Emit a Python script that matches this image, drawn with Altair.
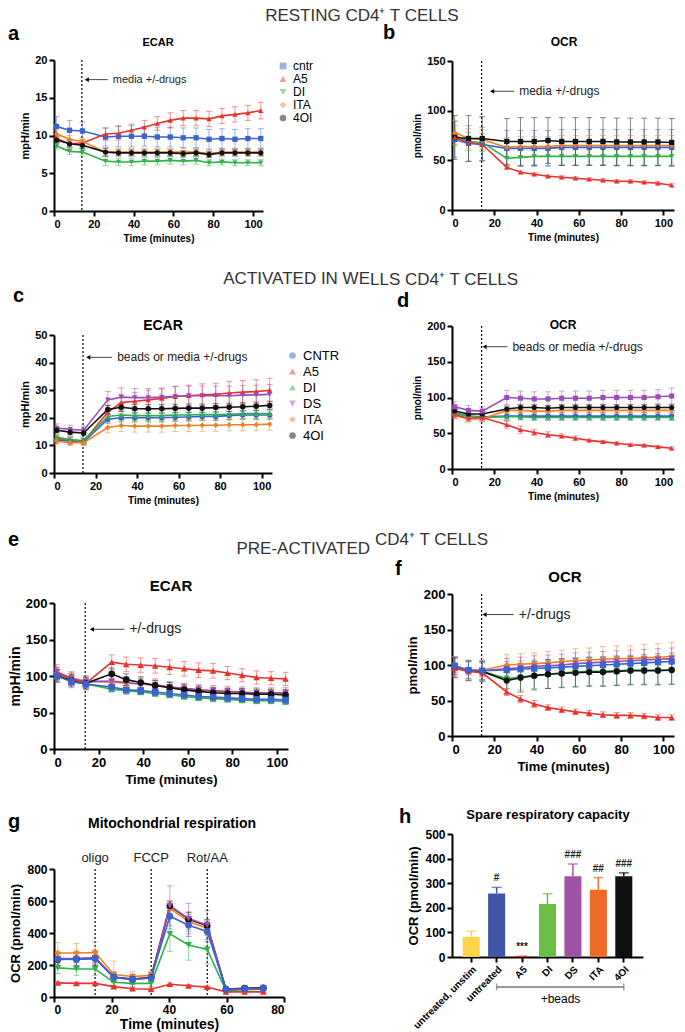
import altair as alt
import pandas as pd

FONT = "Liberation Sans"

# measurement times (minutes)
T16 = [1.3, 7.8, 14.3, 25.9, 32.4, 38.9, 45.4, 51.9, 58.4, 64.9, 71.4, 77.9, 84.4, 90.9, 97.4, 103.9]
T12 = [1.3, 7.8, 14.3, 20.8, 27.3, 33.8, 40.3, 46.8, 53.3, 59.8, 66.3, 72.8]

C_CNTR = "#3C63CB"
C_A5 = "#E8322C"
C_DI = "#2EB24A"
C_ITA = "#F2801F"
C_4OI = "#111111"
C_DS = "#9B4DB7"

# ---------------- a: resting ECAR ----------------
a_cntr = [11.2, 10.7, 10.6, 9.8, 9.9, 9.9, 9.9, 9.8, 9.8, 9.7, 9.7, 9.5, 9.6, 9.5, 9.6, 9.6]
a_cntr_err = [1.3, 1.3, 1.2, 1.2, 1.4, 1.4, 1.3, 1.3, 1.3, 1.3, 1.3, 1.3, 1.3, 1.3, 1.3, 1.3]
a_a5 = [9.6, 8.9, 9.0, 10.2, 10.3, 10.7, 11.1, 11.6, 12.0, 12.3, 12.3, 12.2, 12.6, 12.8, 13.0, 13.3]
a_a5_err = [0.5, 0.5, 0.5, 0.8, 0.9, 0.8, 0.9, 0.9, 1.0, 1.0, 1.0, 1.0, 1.0, 1.0, 1.0, 1.1]
a_di = [8.6, 7.9, 7.8, 6.6, 6.5, 6.5, 6.6, 6.6, 6.7, 6.6, 6.7, 6.4, 6.5, 6.4, 6.4, 6.4]
a_di_err = [0.4, 0.4, 0.4, 0.6, 0.5, 0.5, 0.5, 0.5, 0.5, 0.5, 0.5, 0.4, 0.4, 0.4, 0.4, 0.4]
a_ita = [10.2, 9.5, 9.2, 7.8, 7.8, 7.8, 7.8, 7.8, 7.8, 7.8, 7.8, 7.6, 7.8, 7.8, 7.8, 7.8]
a_ita_err = [0.5, 0.5, 0.5, 0.6, 0.5, 0.5, 0.5, 0.5, 0.5, 0.5, 0.5, 0.5, 0.5, 0.5, 0.5, 0.5]
a_4oi = [9.4, 8.9, 8.7, 7.8, 7.7, 7.7, 7.7, 7.7, 7.7, 7.6, 7.7, 7.5, 7.7, 7.7, 7.7, 7.7]
a_4oi_err = [0.4, 0.4, 0.4, 0.5, 0.4, 0.4, 0.4, 0.4, 0.4, 0.4, 0.4, 0.4, 0.4, 0.4, 0.4, 0.4]

# ---------------- b: resting OCR ----------------
b_cntr = [71, 67, 66, 62, 62, 62, 62, 63, 63, 63, 63, 63, 63, 63, 63, 63]
b_cntr_err = [18, 18, 17, 18, 18, 18, 18, 18, 18, 18, 18, 18, 18, 18, 18, 18]
b_a5 = [73, 68, 66, 43, 38, 36, 34, 33, 32, 31, 30, 29, 29, 28, 27, 25]
b_a5_err = [3, 2, 2, 2, 1.5, 1.5, 1.5, 1.5, 1.5, 1.5, 1.5, 1.5, 1.5, 1.5, 1.5, 1.5]
b_di = [75, 69, 68, 52, 53, 54, 54, 54, 54, 54, 54, 54, 54, 54, 54, 54]
b_di_err = [10, 9, 9, 8, 9, 9, 9, 9, 9, 9, 9, 9, 9, 9, 9, 9]
b_ita = [78, 72, 71, 63, 64, 64, 64, 65, 65, 65, 65, 65, 65, 65, 65, 65]
b_ita_err = [12, 10, 10, 10, 10, 10, 10, 10, 10, 10, 10, 10, 10, 10, 10, 10]
b_4oi = [73, 72, 72, 69, 69, 69, 70, 69, 69, 69, 69, 68.5, 68.5, 68.5, 68.5, 68]
b_4oi_err = [22, 23, 22, 23, 24, 24, 23, 24, 24, 24, 24, 24, 24, 24, 24, 24]

# ---------------- c: activated in wells ECAR ----------------
c_cntr = [12.0, 11.5, 11.3, 19.5, 20.0, 20.0, 20.0, 20.0, 20.2, 20.3, 20.5, 20.5, 20.8, 21.0, 21.0, 21.0]
c_cntr_err = [1.2, 1.2, 1.2, 1.5, 1.5, 1.5, 1.5, 1.5, 1.5, 1.5, 1.5, 1.5, 1.5, 1.5, 1.5, 1.5]
c_a5 = [12.5, 12.0, 11.5, 22.0, 25.5, 26.0, 26.5, 27.0, 27.7, 28.0, 28.3, 28.5, 29.0, 29.3, 29.5, 30.0]
c_a5_err = [1.0, 1.0, 1.0, 2.5, 3.0, 3.2, 3.5, 3.5, 3.8, 3.8, 4.0, 4.0, 4.2, 4.2, 4.3, 4.3]
c_di = [13.0, 12.0, 11.8, 20.5, 21.0, 20.8, 20.8, 20.8, 21.0, 21.0, 21.2, 21.2, 21.3, 21.5, 21.5, 21.5]
c_di_err = [1.0, 1.0, 1.0, 2.0, 2.0, 2.0, 2.0, 2.0, 2.0, 2.0, 2.0, 2.0, 2.0, 2.0, 2.0, 2.0]
c_ds = [16.3, 15.8, 15.5, 26.5, 27.5, 27.3, 27.3, 27.5, 27.8, 28.0, 28.0, 28.0, 28.0, 28.2, 28.3, 28.5]
c_ds_err = [1.5, 1.5, 1.5, 3.0, 3.3, 3.3, 3.3, 3.3, 3.5, 3.5, 3.5, 3.5, 3.5, 3.5, 3.5, 3.5]
c_ita = [11.5, 11.0, 11.0, 16.5, 17.2, 17.0, 17.0, 17.0, 17.2, 17.2, 17.3, 17.3, 17.5, 17.5, 17.5, 17.7]
c_ita_err = [1.0, 1.0, 1.0, 2.0, 2.2, 2.2, 2.2, 2.2, 2.2, 2.2, 2.2, 2.2, 2.2, 2.2, 2.2, 2.2]
c_4oi = [15.5, 14.8, 14.5, 23.0, 23.8, 23.3, 23.3, 23.3, 23.4, 23.5, 23.5, 23.7, 23.8, 24.0, 24.2, 24.5]
c_4oi_err = [1.0, 1.0, 1.0, 1.5, 1.5, 1.5, 1.5, 1.5, 1.5, 1.5, 1.5, 1.5, 1.5, 1.5, 1.5, 1.5]

# ---------------- d: activated in wells OCR ----------------
d_cntr = [78, 74, 73, 74, 74, 74, 74, 74, 74, 74, 74, 74, 74, 74, 74, 74]
d_cntr_err = [5, 4, 4, 6, 5, 5, 5, 5, 5, 5, 5, 5, 5, 5, 5, 5]
d_a5 = [76, 71, 72, 62, 55, 51, 48, 46, 43, 40, 38, 36, 34, 33, 31, 29]
d_a5_err = [5, 5, 5, 5, 5, 4, 4, 3, 3, 2, 2, 2, 2, 2, 2, 2]
d_di = [79, 74, 72, 73, 73, 72, 72, 72, 72, 72, 72, 72, 72, 72, 72, 72]
d_di_err = [4, 4, 4, 4, 4, 4, 4, 4, 4, 4, 4, 4, 4, 4, 4, 4]
d_ds = [87, 82, 81, 100, 99, 98, 98, 99, 99, 99, 100, 100, 100, 100, 101, 102]
d_ds_err = [7, 7, 6, 10, 10, 10, 10, 10, 10, 10, 10, 10, 10, 10, 10, 11]
d_ita = [75, 70, 70, 82, 82, 81, 81, 82, 82, 82, 82, 82, 82, 82, 82, 82]
d_ita_err = [4, 4, 4, 4, 4, 4, 4, 4, 4, 4, 4, 4, 4, 4, 4, 4]
d_4oi = [81, 77, 77, 84, 86, 86, 85, 86, 86, 86, 86, 86, 86, 86, 86, 86]
d_4oi_err = [4, 4, 4, 4, 4, 4, 4, 4, 4, 4, 4, 4, 4, 4, 4, 4]

# ---------------- e: pre-activated ECAR ----------------
e_cntr = [100, 92, 89, 85, 81, 80, 78, 76, 74, 72, 71, 70, 69, 68, 68, 67]
e_cntr_err = [9, 8, 8, 6, 6, 5, 5, 5, 5, 5, 5, 5, 5, 5, 5, 5]
e_a5 = [103, 96, 90, 119, 116, 115, 114, 112, 110, 108, 107, 104, 101, 98, 97, 96]
e_a5_err = [9, 8, 7, 10, 10, 10, 10, 10, 10, 10, 10, 9, 9, 9, 9, 9]
e_di = [101, 93, 89, 82, 80, 78, 76, 74, 72, 70, 69, 68, 67, 66, 66, 65]
e_di_err = [6, 5, 5, 4, 4, 4, 4, 4, 4, 4, 4, 4, 4, 4, 4, 4]
e_ds = [106, 97, 92, 93, 91, 89, 88, 85, 83, 81, 80, 79, 78, 77, 77, 77]
e_ds_err = [10, 9, 8, 8, 8, 8, 8, 7, 7, 7, 7, 7, 7, 7, 7, 7]
e_ita = [104, 97, 93, 92, 90, 89, 87, 85, 83, 81, 79, 78, 77, 76, 76, 76]
e_ita_err = [8, 7, 7, 7, 7, 7, 7, 7, 6, 6, 6, 6, 6, 6, 6, 6]
e_4oi = [100, 94, 90, 103, 95, 91, 87, 84, 81, 79, 77, 76, 76, 75, 75, 74]
e_4oi_err = [8, 8, 8, 8, 8, 8, 7, 7, 7, 7, 7, 7, 7, 7, 7, 7]

# ---------------- f: pre-activated OCR ----------------
f_cntr = [99, 93, 92, 93, 94, 95, 96, 97, 98, 99, 100, 101, 102, 103, 104, 105]
f_cntr_err = [12, 12, 12, 12, 12, 12, 12, 12, 12, 12, 12, 12, 12, 12, 12, 12]
f_a5 = [95, 91, 89, 62, 52, 45, 40, 37, 34, 32, 30, 29, 29, 28, 26, 26]
f_a5_err = [6, 5, 5, 5, 5, 5, 4, 4, 4, 4, 4, 4, 4, 4, 4, 4]
f_di = [98, 92, 91, 81, 83, 85, 87, 89, 90, 91, 91, 92, 93, 93, 93, 93]
f_di_err = [12, 12, 12, 15, 18, 18, 20, 20, 20, 20, 20, 20, 20, 20, 20, 20]
f_ds = [97, 92, 92, 95, 96, 98, 99, 100, 102, 103, 104, 105, 106, 107, 108, 109]
f_ds_err = [14, 14, 14, 14, 15, 15, 15, 15, 15, 15, 15, 15, 15, 15, 15, 15]
f_ita = [98, 93, 93, 100, 101, 102, 103, 105, 106, 107, 108, 109, 109, 110, 111, 112]
f_ita_err = [14, 14, 14, 15, 15, 15, 16, 16, 17, 17, 18, 18, 18, 19, 19, 20]
f_4oi = [96, 92, 91, 78, 82, 85, 87, 88, 89, 90, 90, 91, 92, 92, 92, 93]
f_4oi_err = [14, 14, 14, 18, 20, 20, 20, 20, 20, 20, 20, 20, 20, 20, 20, 20]

# ---------------- g: mitochondrial respiration ----------------
g_cntr = [237, 235, 240, 125, 108, 120, 505, 448, 410, 48, 52, 52]
g_cntr_err = [40, 45, 45, 30, 25, 25, 80, 70, 65, 8, 8, 8]
g_a5 = [88, 85, 85, 65, 52, 48, 80, 70, 62, 32, 32, 32]
g_a5_err = [10, 8, 8, 8, 8, 8, 8, 8, 8, 5, 5, 5]
g_di = [182, 175, 175, 92, 85, 85, 395, 325, 297, 40, 45, 48]
g_di_err = [35, 40, 40, 20, 20, 20, 110, 95, 90, 8, 8, 8]
g_ds = [240, 240, 245, 120, 110, 120, 570, 490, 450, 45, 52, 55]
g_ds_err = [40, 45, 40, 30, 30, 30, 125, 95, 90, 8, 8, 8]
g_ita = [275, 275, 278, 140, 128, 135, 555, 470, 430, 50, 55, 58]
g_ita_err = [65, 60, 65, 85, 30, 25, 40, 60, 45, 10, 8, 8]
g_4oi = [235, 238, 243, 125, 112, 123, 570, 485, 445, 50, 55, 57]
g_4oi_err = [40, 40, 45, 30, 30, 30, 30, 45, 40, 8, 8, 8]
g_inject_t = [14.3, 33.8, 53.3]
g_inject_lab = ["oligo", "FCCP", "Rot/AA"]

# ---------------- h: spare respiratory capacity ----------------
h_cats = ["untreated, unstim", "untreated", "A5", "DI", "DS", "ITA", "4OI"]
h_vals = [82, 258, 3, 215, 328, 273, 328]
h_errs = [23, 25, 0, 42, 50, 50, 14]
h_marks = ["", "#", "***", "", "###", "##", "###"]
h_colors = ["#FBD34D", "#3F56A6", "#E8302A", "#6BBE45", "#A153A3", "#EF6A27", "#111111"]

# section headings, each written in two pieces that meet at the column boundary
SEC1 = ("RESTING CD", "4\u207a T CELLS")
SEC2 = ("ACTIVATED IN WE", "LLS CD4\u207a T CELLS")
SEC3 = ("PRE-ACTIVATED", "CD4\u207a T CELLS")

# ---------- page layout (pixels) ----------
COLS = {1: (8, 46, 316), 2: (370, 82, 224)}   # column start, left extent, right extent
ROWS = {"A": (2, 50), "B": (50, 262), "C": (262, 312), "D": (312, 518),
        "E": (518, 586), "F": (586, 793), "G": (793, 1024)}


def origin_x(col):
    x0, left, _ = COLS[col]
    return x0 + left


def axis(title, values, lsize, tsize, **kw):
    return alt.Axis(title=title, values=values, grid=False, domainColor="black", domainWidth=2,
                    tickColor="black", tickWidth=2, tickSize=5, labelFont=FONT,
                    labelFontWeight="bold", labelFontSize=lsize, labelColor="black",
                    titleFont=FONT, titleFontWeight="bold", titleFontSize=tsize,
                    titleColor="black", labelPadding=2, **kw)


def box_layer(col, row, plot_top):
    # invisible rule that fixes the layout box of an item (pixels relative to its plot area)
    _, left, right = COLS[col]
    top, bottom = ROWS[row]
    return (alt.Chart(pd.DataFrame({"k": [0]}))
            .mark_rule(strokeOpacity=0, opacity=0)
            .encode(x=alt.value(-left), x2=alt.value(right),
                    y=alt.value(top - plot_top), y2=alt.value(bottom - plot_top)))


def text_layer(text, x, y, size, align="left", weight="bold", color="black"):
    return (alt.Chart(pd.DataFrame({"t": [text]}))
            .mark_text(align=align, baseline="alphabetic", font=FONT, fontSize=size,
                       fontWeight=weight, color=color)
            .encode(x=alt.value(x), y=alt.value(y), text="t:N"))


def band(col, row, texts):
    """A 1x1 item that only carries headings, panel letters and panel titles (page coords)."""
    ox, oy = origin_x(col), ROWS[row][0]
    layers = [text_layer(t, px - ox, py - oy, size, align, weight, color)
              for (t, px, py, size, align, weight, color) in texts]
    layers.append(box_layer(col, row, oy))
    return alt.layer(*layers).properties(width=1, height=1)


def line_panel(p):
    rows = []
    for name, vals, errs in p["series"]:
        for t, v, e in zip(p["times"], vals, errs):
            rows.append({"t": t, "s": name, "v": v, "lo": v - e, "hi": v + e})
    df = pd.DataFrame(rows)
    names = [s[0] for s in p["series"]]
    xsc = alt.Scale(domain=p["xdom"], nice=False, zero=False)
    ysc = alt.Scale(domain=p["ydom"], nice=False)
    xax = axis("Time (minutes)", p["xvals"], p["lsize"], p["xtsize"], titlePadding=p.get("xtpad", 4))
    yax = axis(p["ytitle"], p["yvals"], p["lsize"], p["ytsize"], titlePadding=p.get("ytpad", 4))

    def X(f):
        return alt.X(f, type="quantitative", scale=xsc, axis=xax)

    def Y(f):
        return alt.Y(f, type="quantitative", scale=ysc, axis=yax)

    if p.get("legend"):
        leg = alt.Legend(title=None, orient="none", legendX=p["width"] + 14, legendY=p["legY"],
                         labelFont=FONT, labelFontSize=p["legsize"], labelColor="black",
                         symbolSize=45, rowPadding=p["legpad"], symbolStrokeWidth=0)
    else:
        leg = None
    color = alt.Color("s:N", scale=alt.Scale(domain=names, range=p["colors"]), legend=leg)
    shape = alt.Shape("s:N", scale=alt.Scale(domain=names, range=p["shapes"]), legend=leg)
    base = alt.Chart(df)
    layers = []
    vl = pd.DataFrame({"x": p["vlines"]})
    layers.append(alt.Chart(vl).mark_rule(color="black", strokeDash=[2, 2], strokeWidth=1.2)
                  .encode(x=X("x")))
    layers.append(base.mark_rule(strokeWidth=1, opacity=0.5)
                  .encode(x=X("t"), y=Y("lo"), y2=alt.Y2("hi"), color=color))
    layers.append(base.mark_tick(orient="horizontal", size=6, thickness=1, opacity=0.5)
                  .encode(x=X("t"), y=Y("hi"), color=color))
    layers.append(base.mark_tick(orient="horizontal", size=6, thickness=1, opacity=0.5)
                  .encode(x=X("t"), y=Y("lo"), color=color))
    layers.append(base.mark_line(strokeWidth=1.6)
                  .encode(x=X("t"), y=Y("v"), color=color, detail="s:N"))
    layers.append(base.mark_point(filled=True, size=p["msize"], opacity=1)
                  .encode(x=X("t"), y=Y("v"), color=color, shape=shape))
    if "ann" in p:
        x0, x1, yy, txt, fs = p["ann"]
        ad = pd.DataFrame({"x0": [x0], "x1": [x1], "y": [yy], "txt": [txt]})
        ac = alt.Chart(ad)
        layers.append(ac.mark_rule(color="#444", strokeWidth=1)
                      .encode(x=X("x0"), x2="x1:Q", y=Y("y")))
        layers.append(ac.mark_point(shape="triangle-left", filled=True, size=22, color="black", opacity=1)
                      .encode(x=X("x0"), y=Y("y")))
        layers.append(ac.mark_text(align="left", baseline="middle", dx=5, font=FONT, fontSize=fs, color="#222")
                      .encode(x=X("x1"), y=Y("y"), text="txt:N"))
    if "vlabels" in p:
        ld = pd.DataFrame({"x": p["vlines"], "txt": p["vlabels"]})
        layers.append(alt.Chart(ld).mark_text(baseline="bottom", dy=-4, font=FONT, fontSize=13, color="#222")
                      .encode(x=X("x"), y=alt.value(0), text="txt:N"))
    for (t, x, y, size, align, weight, color) in p.get("texts", []):
        layers.append(text_layer(t, x, y, size, align, weight, color))
    layers.append(box_layer(p["col"], p["row"], p["top"]))
    return alt.layer(*layers).properties(width=p["width"], height=p["height"])


X100 = [0, 20, 40, 60, 80, 100]
O1, O2 = origin_x(1), origin_x(2)

pa = line_panel(dict(
    col=1, row="B", top=60, width=209, height=151,
    times=T16,
    series=[("cntr", a_cntr, a_cntr_err), ("A5", a_a5, a_a5_err), ("DI", a_di, a_di_err),
            ("ITA", a_ita, a_ita_err), ("4OI", a_4oi, a_4oi_err)],
    colors=[C_CNTR, C_A5, C_DI, C_ITA, C_4OI],
    shapes=["square", "triangle-up", "triangle-down", "diamond", "circle"],
    xdom=[0, 105], xvals=X100, ydom=[0, 20], yvals=[0, 5, 10, 15, 20], ytitle="mpH/min",
    lsize=11, xtsize=10, ytsize=11,
    vlines=[14], ann=(16.5, 27, 17.4, "media +/-drugs", 11),
    legend=True, legY=0, legsize=12, legpad=1, msize=28))

pb = line_panel(dict(
    col=2, row="B", top=61, width=222, height=149,
    times=T16,
    series=[("cntr", b_cntr, b_cntr_err), ("DI", b_di, b_di_err), ("ITA", b_ita, b_ita_err),
            ("4OI", b_4oi, b_4oi_err), ("A5", b_a5, b_a5_err)],
    colors=[C_CNTR, C_DI, C_ITA, C_4OI, C_A5],
    shapes=["square", "triangle-down", "diamond", "square", "triangle-up"],
    xdom=[0, 105], xvals=X100, ydom=[0, 150], yvals=[0, 50, 100, 150], ytitle="pmol/min",
    lsize=11, xtsize=10, ytsize=10,
    vlines=[14], ann=(19, 29.4, 119.5, "media +/-drugs", 12), msize=28))

pc = line_panel(dict(
    col=1, row="D", top=335, width=218, height=138,
    times=T16,
    series=[("CNTR", c_cntr, c_cntr_err), ("A5", c_a5, c_a5_err), ("DI", c_di, c_di_err),
            ("DS", c_ds, c_ds_err), ("ITA", c_ita, c_ita_err), ("4OI", c_4oi, c_4oi_err)],
    colors=[C_CNTR, C_A5, C_DI, C_DS, C_ITA, C_4OI],
    shapes=["circle", "triangle-up", "triangle-up", "triangle-down", "diamond", "circle"],
    xdom=[0, 105], xvals=X100, ydom=[0, 50], yvals=[0, 10, 20, 30, 40, 50], ytitle="mpH/min",
    lsize=11, xtsize=10, ytsize=11,
    texts=[("ECAR", 109, -5, 14, "center", "bold", "black")],
    vlines=[14], ann=(16.5, 28, 41.9, "beads or media +/-drugs", 12),
    legend=True, legY=14, legsize=13, legpad=2, msize=30))

pd_ = line_panel(dict(
    col=2, row="D", top=325, width=222, height=143,
    times=T16,
    series=[("CNTR", d_cntr, d_cntr_err), ("DI", d_di, d_di_err), ("ITA", d_ita, d_ita_err),
            ("4OI", d_4oi, d_4oi_err), ("DS", d_ds, d_ds_err), ("A5", d_a5, d_a5_err)],
    colors=[C_CNTR, C_DI, C_ITA, C_4OI, C_DS, C_A5],
    shapes=["circle", "triangle-up", "diamond", "circle", "square", "triangle-up"],
    xdom=[0, 105], xvals=X100, ydom=[0, 200], yvals=[0, 50, 100, 150, 200], ytitle="pmol/min",
    lsize=11, xtsize=10, ytsize=10,
    texts=[("OCR", 111, 3, 12, "center", "bold", "black")],
    vlines=[14], ann=(15.4, 26.2, 171, "beads or media +/-drugs", 12), msize=26))

pe = line_panel(dict(
    col=1, row="F", top=593, width=234, height=146,
    times=T16,
    series=[("DI", e_di, e_di_err), ("ITA", e_ita, e_ita_err), ("DS", e_ds, e_ds_err),
            ("4OI", e_4oi, e_4oi_err), ("A5", e_a5, e_a5_err), ("CNTR", e_cntr, e_cntr_err)],
    colors=[C_DI, C_ITA, C_DS, C_4OI, C_A5, C_CNTR],
    shapes=["triangle-up", "diamond", "triangle-down", "circle", "triangle-up", "square"],
    xdom=[0, 105], xvals=X100, ydom=[0, 200], yvals=[0, 50, 100, 150, 200], ytitle="mpH/min",
    lsize=13, xtsize=13, ytsize=14, ytpad=3,
    vlines=[14], ann=(17, 31.6, 164, "+/-drugs", 14), msize=45))

pf = line_panel(dict(
    col=2, row="F", top=593, width=222, height=142,
    times=T16,
    series=[("DI", f_di, f_di_err), ("4OI", f_4oi, f_4oi_err), ("ITA", f_ita, f_ita_err),
            ("DS", f_ds, f_ds_err), ("A5", f_a5, f_a5_err), ("CNTR", f_cntr, f_cntr_err)],
    colors=[C_DI, C_4OI, C_ITA, C_DS, C_A5, C_CNTR],
    shapes=["circle", "circle", "diamond", "triangle-down", "triangle-up", "square"],
    xdom=[0, 105], xvals=X100, ydom=[0, 200], yvals=[0, 50, 100, 150, 200], ytitle="pmol/min",
    lsize=13, xtsize=13, ytsize=13,
    vlines=[14], ann=(15.4, 29.2, 171, "+/-drugs", 14), msize=40))

pg = line_panel(dict(
    col=1, row="G", top=859, width=230, height=128,
    times=T12,
    series=[("A5", g_a5, g_a5_err), ("DI", g_di, g_di_err), ("ITA", g_ita, g_ita_err),
            ("4OI", g_4oi, g_4oi_err), ("DS", g_ds, g_ds_err), ("CNTR", g_cntr, g_cntr_err)],
    colors=[C_A5, C_DI, C_ITA, C_4OI, C_DS, C_CNTR],
    shapes=["triangle-up", "triangle-down", "diamond", "circle", "triangle-down", "circle"],
    xdom=[0, 80], xvals=[0, 20, 40, 60, 80], ydom=[0, 800], yvals=[0, 200, 400, 600, 800],
    ytitle="OCR (pmol/min)", lsize=12, xtsize=14, ytsize=13, xtpad=2,
    texts=[("Mitochondrial respiration", 118, -41, 14, "center", "bold", "black"),
           ("g", -46, -41, 20, "left", "bold", "black")],
    vlines=g_inject_t, vlabels=g_inject_lab, msize=45))

# ---- panel h ----
H_W, H_H, H_TOP = 191, 123, 833
hdf = pd.DataFrame({"cat": h_cats, "v": h_vals, "hi": [v + e for v, e in zip(h_vals, h_errs)],
                    "lab": h_marks, "col": h_colors})
xh_scale = alt.Scale(domain=h_cats, paddingInner=0.33, paddingOuter=0.42)
xh_axis = alt.Axis(title=None, labelAngle=315, labelFont=FONT, labelFontWeight="bold", labelFontSize=10,
                   labelColor="black", domainColor="black", domainWidth=2, tickColor="black",
                   tickWidth=2, tickSize=5, labelPadding=2)
yh_scale = alt.Scale(domain=[0, 500], nice=False)
yh_axis = axis("OCR (pmol/min)", [0, 100, 200, 300, 400, 500], 12, 13, titlePadding=4)


def XH(f):
    return alt.X(f, type="nominal", scale=xh_scale, axis=xh_axis, sort=h_cats)


def YH(f):
    return alt.Y(f, type="quantitative", scale=yh_scale, axis=yh_axis)


hb = alt.Chart(hdf)
h_layers = [
    hb.mark_rule(strokeWidth=1.5).encode(x=XH("cat"), y=YH("v"), y2=alt.Y2("hi"),
                                         color=alt.Color("col:N", scale=None)),
    hb.mark_tick(orient="horizontal", size=10, thickness=1.5).encode(x=XH("cat"), y=YH("hi"),
                                                                     color=alt.Color("col:N", scale=None)),
    hb.mark_bar().encode(x=XH("cat"), y=YH("v"), color=alt.Color("col:N", scale=None)),
    hb.mark_text(baseline="bottom", dy=-4, font=FONT, fontSize=10, fontWeight="bold", color="#222")
      .encode(x=XH("cat"), y=YH("hi"), text="lab:N"),
]
br = pd.DataFrame({"a": ["untreated"], "b": ["4OI"]})
h_layers.append(alt.Chart(br).mark_rule(color="#777", strokeWidth=1.5)
                .encode(x=XH("a"), x2="b:N", y=alt.value(H_H + 30)))
bre = pd.DataFrame({"a": ["untreated", "4OI"]})
h_layers.append(alt.Chart(bre).mark_tick(orient="vertical", size=7, thickness=1.5, color="#777")
                .encode(x=XH("a"), y=alt.value(H_H + 30)))
bt = pd.DataFrame({"a": ["DI"], "txt": ["+beads"]})
h_layers.append(alt.Chart(bt).mark_text(font=FONT, fontSize=12, color="black", baseline="top", dx=13)
                .encode(x=XH("a"), y=alt.value(H_H + 37), text="txt:N"))
h_layers.append(text_layer("Spare respiratory capacity", 96, -15, 13, "center"))
h_layers.append(text_layer("h", -53, -11, 20))
h_layers.append(box_layer(2, "G", H_TOP))
ph = alt.layer(*h_layers).properties(width=H_W, height=H_H)

items = [
    band(1, "A", [(SEC1[0], 370, 21, 17, "right", "normal", "#333"),
                  ("a", 8, 40, 20, "left", "bold", "black"),
                  ("ECAR", O1 + 104, 46, 11, "center", "bold", "black")]),
    band(2, "A", [(SEC1[1], 370, 21, 17, "left", "normal", "#333"),
                  ("b", 383, 39, 20, "left", "bold", "black"),
                  ("OCR", O2 + 112, 46, 12, "center", "bold", "black")]),
    pa, pb,
    band(1, "C", [(SEC2[0], 370, 284, 17, "right", "normal", "#333"),
                  ("c", 13, 302, 20, "left", "bold", "black")]),
    band(2, "C", [(SEC2[1], 370, 284, 17, "left", "normal", "#333"),
                  ("d", 397, 306, 20, "left", "bold", "black")]),
    pc, pd_,
    band(1, "E", [(SEC3[0], 370, 544, 17, "right", "normal", "#333"),
                  ("e", 8, 536, 20, "left", "bold", "black"),
                  ("ECAR", O1 + 117, 581, 15, "center", "bold", "black")]),
    band(2, "E", [(SEC3[1], 375, 544, 17, "left", "normal", "#333"),
                  ("f", 395, 574, 20, "left", "bold", "black"),
                  ("OCR", O2 + 113, 581, 15, "center", "bold", "black")]),
    pe, pf,
    pg, ph,
]

chart = alt.concat(*items, columns=2, spacing=0, align="none", bounds="full").resolve_scale(
    color="independent", shape="independent").properties(
    padding={"left": 0, "top": -6, "right": 0, "bottom": 0}
).configure_view(stroke=None)

chart.save("out.html", embed_options={"renderer": "svg", "actions": False})
